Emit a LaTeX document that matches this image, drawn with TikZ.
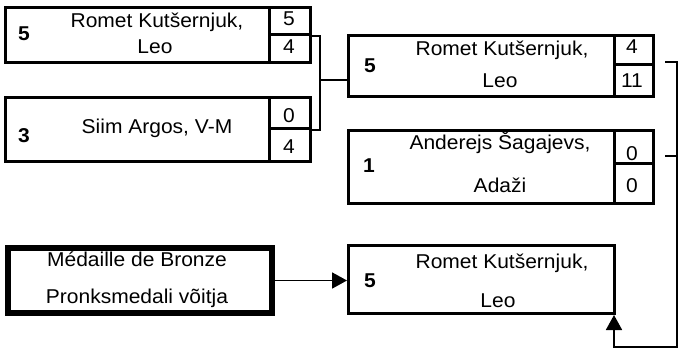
\documentclass[tikz,border=0pt]{standalone}
\usepackage{fontspec}
\setmainfont[FakeStretch=1.05]{Liberation Sans}
\usetikzlibrary{arrows.meta}
\begin{document}
\begin{tikzpicture}[x=1pt,y=-1pt,
  box/.style={draw, line width=3pt, rectangle, inner sep=0pt, anchor=north west},
  scorebox/.style={box, minimum width=41pt},
  bigbox/.style={draw, line width=6pt, rectangle, inner sep=0pt, anchor=north west},
  lbl/.style={anchor=base, inner sep=0pt, font=\fontsize{20}{24}\selectfont},
  seed/.style={lbl, font=\fontsize{20}{24}\selectfont\bfseries},
  conn/.style={line width=1.8pt},
  arr/.style={conn, -{Triangle[length=15pt,width=16pt]}}
]
\useasboundingbox (0,0) rectangle (679,348);
% Box A
\node[box, minimum width=264pt, minimum height=55pt] (a) at (4,6) {};
\node[scorebox, minimum height=27pt] (sa1) at (268,6) {};
\node[scorebox, minimum height=28pt] (sa2) at (268,33) {};
\node[seed] (ta0) at (24,40) {5};
\node[lbl] (ta1) at (157,27) {Romet Kutšernjuk,};
\node[lbl] (ta2) at (155,53) {Leo};
\node[lbl] (tsa1) at (289,25) {5};
\node[lbl] (tsa2) at (289,53) {4};
% Box B
\node[box, minimum width=264pt, minimum height=64pt] (b) at (4,96) {};
\node[scorebox, minimum height=31pt] (sb1) at (268,96) {};
\node[scorebox, minimum height=33pt] (sb2) at (268,127) {};
\node[seed] (tb0) at (24,142) {3};
\node[lbl] (tb1) at (157,133) {Siim Argos, V-M};
\node[lbl] (tsb1) at (289,122) {0};
\node[lbl] (tsb2) at (289,153) {4};
% Box C
\node[box, minimum width=266pt, minimum height=61pt] (c) at (347,34) {};
\node[box, minimum width=39pt, minimum height=29pt] (sc1) at (613,34) {};
\node[box, minimum width=39pt, minimum height=32pt] (sc2) at (613,63) {};
\node[seed] (tc0) at (370,72) {5};
\node[lbl] (tc1) at (502,55) {Romet Kutšernjuk,};
\node[lbl] (tc2) at (500,87) {Leo};
\node[lbl] (tsc1) at (632,53) {4};
\node[lbl] (tsc2) at (632,87) {11};
% Box D
\node[box, minimum width=266pt, minimum height=73pt] (d) at (347,129) {};
\node[box, minimum width=39pt, minimum height=33pt] (sd1) at (613,129) {};
\node[box, minimum width=39pt, minimum height=40pt] (sd2) at (613,162) {};
\node[seed] (td0) at (369,172) {1};
\node[lbl] (td1) at (500,149) {Anderejs Šagajevs,};
\node[lbl] (td2) at (500,192) {Adaži};
\node[lbl] (tsd1) at (632,160) {0};
\node[lbl] (tsd2) at (632,192) {0};
% Box E
\node[box, minimum width=266pt, minimum height=68pt] (e) at (347,244) {};
\node[seed] (te0) at (370,287) {5};
\node[lbl] (te1) at (502,268) {Romet Kutšernjuk,};
\node[lbl] (te2) at (498,307) {Leo};
% Box F
\node[bigbox, minimum width=264pt, minimum height=65pt] (f) at (5,245) {};
\node[lbl] (tf1) at (137,266) {Médaille de Bronze};
\node[lbl] (tf2) at (137,303) {Pronksmedali võitja};
% Connectors
\coordinate (jab) at (320,80);
\draw[conn] (sa1.south east) -| (jab) |- (sb1.south east);
\draw[conn] (jab) -- (c.west |- jab);
\coordinate (rt) at (665,62);
\coordinate (rc1) at (677,62);
\coordinate (rm) at (665,156);
\coordinate (rc2) at (677,156);
\coordinate (rb) at (677,347);
\draw[arr] (rt) -- (rc1) -- (rb) -| ([xshift=-2pt]e.south east);
\draw[conn] (rm) -- (rc2);
\draw[arr] (f.east) -- (e.west |- f.east);
\end{tikzpicture}
\end{document}
